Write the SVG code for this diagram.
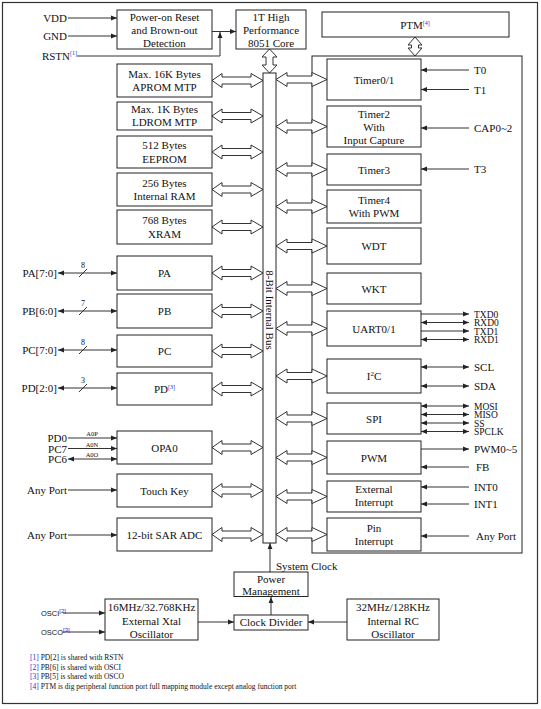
<svg xmlns="http://www.w3.org/2000/svg" width="541" height="709" viewBox="0 0 541 709">
<defs>
<marker id="ah" viewBox="0 0 10 10" refX="10" refY="5" markerWidth="6" markerHeight="6" markerUnits="userSpaceOnUse" orient="auto-start-reverse"><path d="M0,1 L10,5 L0,9 z" fill="#222"/></marker>
<path id="la" d="M212,0 L222,-7 L222,-3.5 L251,-3.5 L251,-7 L263,0 L251,7 L251,3.5 L222,3.5 L222,7 Z"/>
<path id="ra" d="M276,0 L287,-7 L287,-3.5 L312,-3.5 L312,-7 L327,0 L312,7 L312,3.5 L287,3.5 L287,7 Z"/>
</defs>
<style>
text{font-family:"Liberation Serif","Times New Roman",serif;font-size:11px;fill:#111}
.box{fill:#fff;stroke:#222;stroke-width:1}
.dbl{fill:#fff;stroke:#333;stroke-width:1}
.ln{stroke:#333;stroke-width:1;fill:none}
.c{text-anchor:middle}
.r{text-anchor:end}
.sup{font-size:6px;fill:#2a2ad0}
.tiny{font-size:6.5px}
.num{font-size:8px}
.stk{font-size:9.5px}
.osc{font-family:"Liberation Sans",Arial,sans-serif;font-size:7.5px}
.fn{font-size:7.5px}
.fnn{fill:#2a2ad0}
</style>
<rect x="2.5" y="2.5" width="535" height="701" fill="#fff" stroke="#333" stroke-width="1.2"/>

<g id="panel"><rect class="box" x="312" y="56" width="210" height="497"/></g>

<g id="connectors">
<line class="ln" x1="68" y1="18" x2="117" y2="18" marker-end="url(#ah)"/>
<line class="ln" x1="68" y1="36" x2="117" y2="36" marker-end="url(#ah)"/>
<path class="ln" d="M77,56 H220 V32" marker-end="url(#ah)"/>
<line class="ln" x1="212" y1="31.5" x2="236" y2="31.5" marker-end="url(#ah)"/>
<path class="dbl" d="M269.5,49 L277,57 L273,57 L273,65 L277,65 L269.5,73 L262,65 L266,65 L266,57 L262,57 Z"/>
<path class="dbl" d="M415,37 L422,45 L418.5,45 L418.5,48 L422,48 L415,56 L408,48 L411.5,48 L411.5,45 L408,45 Z"/>
<use href="#la" class="dbl" y="80.5"/>
<use href="#la" class="dbl" y="116"/>
<use href="#la" class="dbl" y="152"/>
<use href="#la" class="dbl" y="189.5"/>
<use href="#la" class="dbl" y="227"/>
<use href="#la" class="dbl" y="273"/>
<use href="#la" class="dbl" y="311"/>
<use href="#la" class="dbl" y="351"/>
<use href="#la" class="dbl" y="389"/>
<use href="#la" class="dbl" y="447.5"/>
<use href="#la" class="dbl" y="490.5"/>
<use href="#la" class="dbl" y="534.5"/>
<use href="#ra" class="dbl" y="79.5"/>
<use href="#ra" class="dbl" y="126.5"/>
<use href="#ra" class="dbl" y="169.5"/>
<use href="#ra" class="dbl" y="206.5"/>
<use href="#ra" class="dbl" y="246"/>
<use href="#ra" class="dbl" y="288.5"/>
<use href="#ra" class="dbl" y="328.5"/>
<use href="#ra" class="dbl" y="376"/>
<use href="#ra" class="dbl" y="418.5"/>
<use href="#ra" class="dbl" y="457.5"/>
<use href="#ra" class="dbl" y="496.5"/>
<use href="#ra" class="dbl" y="534.5"/>
<line class="ln" x1="58" y1="273" x2="117" y2="273" marker-start="url(#ah)" marker-end="url(#ah)"/>
<line class="ln" x1="79" y1="277" x2="87" y2="269"/>
<line class="ln" x1="58" y1="311" x2="117" y2="311" marker-start="url(#ah)" marker-end="url(#ah)"/>
<line class="ln" x1="79" y1="315" x2="87" y2="307"/>
<line class="ln" x1="58" y1="350" x2="117" y2="350" marker-start="url(#ah)" marker-end="url(#ah)"/>
<line class="ln" x1="79" y1="354" x2="87" y2="346"/>
<line class="ln" x1="58" y1="388" x2="117" y2="388" marker-start="url(#ah)" marker-end="url(#ah)"/>
<line class="ln" x1="79" y1="392" x2="87" y2="384"/>
<line class="ln" x1="68" y1="438" x2="117" y2="438" marker-end="url(#ah)"/>
<line class="ln" x1="68" y1="448.5" x2="117" y2="448.5" marker-end="url(#ah)"/>
<line class="ln" x1="68" y1="459" x2="117" y2="459" marker-start="url(#ah)" marker-end="url(#ah)"/>
<line class="ln" x1="68" y1="490" x2="117" y2="490" marker-end="url(#ah)"/>
<line class="ln" x1="68" y1="535" x2="117" y2="535" marker-end="url(#ah)"/>
<line class="ln" x1="469" y1="70" x2="421" y2="70" marker-end="url(#ah)"/>
<line class="ln" x1="469" y1="89.5" x2="421" y2="89.5" marker-end="url(#ah)"/>
<line class="ln" x1="469" y1="128" x2="421" y2="128" marker-end="url(#ah)"/>
<line class="ln" x1="469" y1="169" x2="421" y2="169" marker-end="url(#ah)"/>
<line class="ln" x1="421" y1="314" x2="469" y2="314" marker-end="url(#ah)"/>
<line class="ln" x1="421" y1="322.5" x2="469" y2="322.5" marker-start="url(#ah)" marker-end="url(#ah)"/>
<line class="ln" x1="421" y1="331" x2="469" y2="331" marker-end="url(#ah)"/>
<line class="ln" x1="421" y1="339.5" x2="469" y2="339.5" marker-start="url(#ah)" marker-end="url(#ah)"/>
<line class="ln" x1="421" y1="367" x2="469" y2="367" marker-start="url(#ah)" marker-end="url(#ah)"/>
<line class="ln" x1="421" y1="386" x2="469" y2="386" marker-start="url(#ah)" marker-end="url(#ah)"/>
<line class="ln" x1="421" y1="406" x2="469" y2="406" marker-start="url(#ah)" marker-end="url(#ah)"/>
<line class="ln" x1="421" y1="414.5" x2="469" y2="414.5" marker-start="url(#ah)" marker-end="url(#ah)"/>
<line class="ln" x1="421" y1="423" x2="469" y2="423" marker-start="url(#ah)" marker-end="url(#ah)"/>
<line class="ln" x1="421" y1="431.5" x2="469" y2="431.5" marker-start="url(#ah)" marker-end="url(#ah)"/>
<line class="ln" x1="421" y1="449" x2="469" y2="449" marker-end="url(#ah)"/>
<line class="ln" x1="469" y1="467" x2="421" y2="467" marker-end="url(#ah)"/>
<line class="ln" x1="469" y1="487" x2="421" y2="487" marker-end="url(#ah)"/>
<line class="ln" x1="469" y1="504" x2="421" y2="504" marker-end="url(#ah)"/>
<line class="ln" x1="469" y1="536" x2="421" y2="536" marker-end="url(#ah)"/>
<line class="ln" x1="270" y1="572" x2="270" y2="543" marker-end="url(#ah)"/>
<line class="ln" x1="271" y1="615" x2="271" y2="597" marker-end="url(#ah)"/>
<line class="ln" x1="198" y1="622" x2="234" y2="622" marker-end="url(#ah)"/>
<line class="ln" x1="347" y1="622" x2="308" y2="622" marker-end="url(#ah)"/>
<line class="ln" x1="63" y1="613" x2="105" y2="613" marker-end="url(#ah)"/>
<line class="ln" x1="63" y1="632" x2="105" y2="632" marker-end="url(#ah)"/>
</g>

<g id="bus"><rect class="box" x="263" y="73" width="13" height="470"/><text class="c" transform="translate(269.5,310) rotate(90)" y="4">8-Bit Internal Bus</text></g>

<g id="labels">
<text class="r" x="67" y="22">VDD</text>
<text class="r" x="67" y="40">GND</text>
<text class="r" x="70" y="60">RSTN</text><text class="sup" x="70" y="55">[1]</text>
<text class="r" x="57" y="277">PA[7:0]</text><text class="num c" x="83" y="268">8</text>
<text class="r" x="57" y="315">PB[6:0]</text><text class="num c" x="83" y="306">7</text>
<text class="r" x="57" y="354">PC[7:0]</text><text class="num c" x="83" y="345">8</text>
<text class="r" x="57" y="392">PD[2:0]</text><text class="num c" x="83" y="383">3</text>
<text class="r" x="67" y="442">PD0</text><text class="tiny c" x="92" y="436">A0P</text>
<text class="r" x="67" y="452.5">PC7</text><text class="tiny c" x="92" y="446.5">A0N</text>
<text class="r" x="67" y="463">PC6</text><text class="tiny c" x="92" y="457">A0O</text>
<text class="r" x="67" y="494">Any Port</text>
<text class="r" x="67" y="539">Any Port</text>
<text x="474" y="74">T0</text>
<text x="474" y="93.5">T1</text>
<text x="474" y="132">CAP0~2</text>
<text x="474" y="173">T3</text>
<text class="stk" x="474" y="317.5">TXD0</text>
<text class="stk" x="474" y="326">RXD0</text>
<text class="stk" x="474" y="334.5">TXD1</text>
<text class="stk" x="474" y="343">RXD1</text>
<text x="474" y="371">SCL</text>
<text x="474" y="390">SDA</text>
<text class="stk" x="474" y="409.5">MOSI</text>
<text class="stk" x="474" y="418">MISO</text>
<text class="stk" x="474" y="426.5">SS</text>
<text class="stk" x="474" y="435">SPCLK</text>
<text x="474" y="453">PWM0~5</text>
<text x="476" y="471">FB</text>
<text x="474" y="491">INT0</text>
<text x="474" y="508">INT1</text>
<text x="476" y="540">Any Port</text>
<text x="276" y="570">System Clock</text>
<text class="osc" x="41" y="616">OSCI<tspan class="sup" dy="-3">[2]</tspan></text>
<text class="osc" x="41" y="635">OSCO<tspan class="sup" dy="-3">[3]</tspan></text>
</g>

<g id="por"><rect class="box" x="117" y="10" width="95" height="39"/><text class="c" x="164.5" y="20.5">Power-on Reset</text><text class="c" x="164.5" y="33.5">and Brown-out</text><text class="c" x="164.5" y="46.5">Detection</text></g>
<g id="core"><rect class="box" x="236" y="10" width="70" height="39"/><text class="c" x="271" y="20.5">1T High</text><text class="c" x="271" y="33.5">Performance</text><text class="c" x="271" y="46.5">8051 Core</text></g>
<g id="ptm"><rect class="box" x="322" y="12" width="187" height="25"/><text class="c" x="415" y="28.5">PTM<tspan class="sup" dy="-4">[4]</tspan></text></g>

<g id="aprom"><rect class="box" x="117" y="64" width="95" height="33"/><text class="c" x="164.5" y="77.5">Max. 16K Bytes</text><text class="c" x="164.5" y="91">APROM MTP</text></g>
<g id="ldrom"><rect class="box" x="117" y="102" width="95" height="28"/><text class="c" x="164.5" y="113">Max. 1K Bytes</text><text class="c" x="164.5" y="126">LDROM MTP</text></g>
<g id="eeprom"><rect class="box" x="117" y="136" width="95" height="32"/><text class="c" x="164.5" y="149">512 Bytes</text><text class="c" x="164.5" y="162.5">EEPROM</text></g>
<g id="iram"><rect class="box" x="117" y="173" width="95" height="33"/><text class="c" x="164.5" y="186.5">256 Bytes</text><text class="c" x="164.5" y="200">Internal RAM</text></g>
<g id="xram"><rect class="box" x="117" y="210" width="95" height="34"/><text class="c" x="164.5" y="224">768 Bytes</text><text class="c" x="164.5" y="237.5">XRAM</text></g>
<g id="pa"><rect class="box" x="117" y="256" width="95" height="34"/><text class="c" x="164.5" y="277">PA</text></g>
<g id="pb"><rect class="box" x="117" y="294" width="95" height="34"/><text class="c" x="164.5" y="315">PB</text></g>
<g id="pc"><rect class="box" x="117" y="335" width="95" height="32"/><text class="c" x="164.5" y="355">PC</text></g>
<g id="pd"><rect class="box" x="117" y="373" width="95" height="32"/><text class="c" x="164.5" y="393">PD<tspan class="sup" dy="-4">[3]</tspan></text></g>
<g id="opa0"><rect class="box" x="117" y="431" width="95" height="33"/><text class="c" x="164.5" y="451.5">OPA0</text></g>
<g id="touch"><rect class="box" x="117" y="474" width="95" height="33"/><text class="c" x="164.5" y="494.5">Touch Key</text></g>
<g id="adc"><rect class="box" x="117" y="518" width="95" height="33"/><text class="c" x="164.5" y="538.5">12-bit SAR ADC</text></g>

<g id="timer01"><rect class="box" x="327" y="59" width="94" height="41"/><text class="c" x="374" y="83.5">Timer0/1</text></g>
<g id="timer2"><rect class="box" x="327" y="106" width="94" height="41"/><text class="c" x="374" y="117.5">Timer2</text><text class="c" x="374" y="130.5">With</text><text class="c" x="374" y="143.5">Input Capture</text></g>
<g id="timer3"><rect class="box" x="327" y="154" width="94" height="31"/><text class="c" x="374" y="173.5">Timer3</text></g>
<g id="timer4"><rect class="box" x="327" y="190" width="94" height="33"/><text class="c" x="374" y="204">Timer4</text><text class="c" x="374" y="217">With PWM</text></g>
<g id="wdt"><rect class="box" x="327" y="228" width="94" height="36"/><text class="c" x="374" y="250">WDT</text></g>
<g id="wkt"><rect class="box" x="327" y="273" width="94" height="31"/><text class="c" x="374" y="292.5">WKT</text></g>
<g id="uart"><rect class="box" x="327" y="311" width="94" height="35"/><text class="c" x="374" y="332.5">UART0/1</text></g>
<g id="i2c"><rect class="box" x="327" y="359" width="94" height="34"/><text class="c" x="374" y="380">I<tspan font-size="7" dy="-4">2</tspan><tspan dy="4">C</tspan></text></g>
<g id="spi"><rect class="box" x="327" y="403" width="94" height="31"/><text class="c" x="374" y="422.5">SPI</text></g>
<g id="pwm"><rect class="box" x="327" y="441" width="94" height="33"/><text class="c" x="374" y="461.5">PWM</text></g>
<g id="extint"><rect class="box" x="327" y="481" width="94" height="31"/><text class="c" x="374" y="492.5">External</text><text class="c" x="374" y="505.5">Interrupt</text></g>
<g id="pinint"><rect class="box" x="327" y="518" width="94" height="33"/><text class="c" x="374" y="531.5">Pin</text><text class="c" x="374" y="545">Interrupt</text></g>

<g id="pm"><rect class="box" x="234" y="572" width="74" height="24.5"/><text class="c" x="271" y="582.5">Power</text><text class="c" x="271" y="594.5">Management</text></g>
<g id="cd"><rect class="box" x="234" y="615" width="74" height="15"/><text class="c" x="271" y="626">Clock Divider</text></g>
<g id="xtal"><rect class="box" x="105" y="599" width="93" height="41"/><text class="c" x="151.5" y="611">16MHz/32.768KHz</text><text class="c" x="151.5" y="624.5">External Xtal</text><text class="c" x="151.5" y="638">Oscillator</text></g>
<g id="rc"><rect class="box" x="347" y="599" width="92" height="41"/><text class="c" x="393" y="611">32MHz/128KHz</text><text class="c" x="393" y="624.5">Internal RC</text><text class="c" x="393" y="638">Oscillator</text></g>

<g id="footnotes">
<text class="fn" x="30" y="660"><tspan class="fnn">[1]</tspan> PD[2] is shared with RSTN</text>
<text class="fn" x="30" y="669.5"><tspan class="fnn">[2]</tspan> PB[6] is shared with OSCI</text>
<text class="fn" x="30" y="679"><tspan class="fnn">[3]</tspan> PB[5] is shared with OSCO</text>
<text class="fn" x="30" y="688.5"><tspan class="fnn">[4]</tspan> PTM is dig peripheral function port full mapping module except analog function port</text>
</g>
</svg>
